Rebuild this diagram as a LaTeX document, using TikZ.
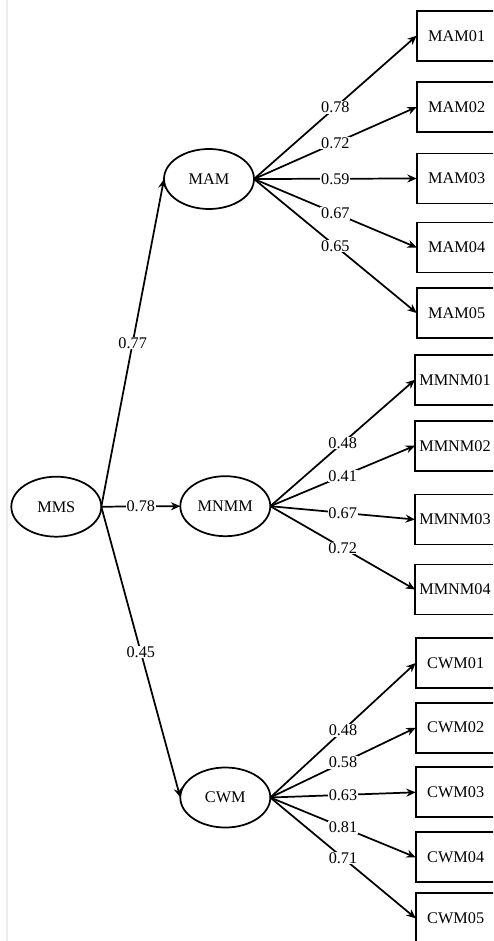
\documentclass[tikz,border=0pt]{standalone}
\usepackage{fontspec}
\setmainfont{Liberation Serif}
\usetikzlibrary{shapes.geometric,arrows.meta}

\tikzset{
  latent/.style={ellipse, draw, line width=1.3pt, minimum width=67.5pt, minimum height=45pt, inner sep=0pt, outer sep=0pt},
  indicator/.style={rectangle, draw, line width=1.3pt, minimum width=60pt, minimum height=37.5pt, inner sep=2pt, outer sep=0pt},
  path/.style={line width=1.3pt, -{Stealth[length=7pt,width=6pt]}},
  coef/.style={midway, fill=white, inner sep=0.6pt}
}

\begin{document}
\begin{tikzpicture}[x=0.75pt, y=-0.75pt, font=\fontsize{12.2pt}{14pt}\selectfont]
  \useasboundingbox (0,0) rectangle (493,941);
  \clip (0,0) rectangle (493,941);
  \draw[black!7, line width=0.8pt] (7,0) -- (7,941);

  % latent variables
  \node[latent] (MMS)  at (56.3,506.7) {MMS};
  \node[latent] (MAM)  at (209,179)    {MAM};
  \node[latent] (MNMM) at (225.3,506.2) {MNMM};
  \node[latent] (CWM)  at (225.3,797.5) {CWM};

  % observed indicators
  \node[indicator] (MAM01) at (456.7,35.7)  {MAM01};
  \node[indicator] (MAM02) at (456.7,107)   {MAM02};
  \node[indicator] (MAM03) at (456.7,178.5) {MAM03};
  \node[indicator] (MAM04) at (456.7,247.5) {MAM04};
  \node[indicator] (MAM05) at (456.7,313)   {MAM05};

  \node[indicator] (MMNM01) at (455,379.7) {MMNM01};
  \node[indicator] (MMNM02) at (455,445.7) {MMNM02};
  \node[indicator] (MMNM03) at (455,519.5) {MMNM03};
  \node[indicator] (MMNM04) at (455,589.5) {MMNM04};

  \node[indicator] (CWM01) at (455.7,663)   {CWM01};
  \node[indicator] (CWM02) at (455.7,727.7) {CWM02};
  \node[indicator] (CWM03) at (455.7,792.3) {CWM03};
  \node[indicator] (CWM04) at (455.7,857.3) {CWM04};
  \node[indicator] (CWM05) at (455.7,918.3) {CWM05};

  % second-order paths
  \draw[path] (MMS.east) -- node[coef] {0.77} (MAM.west);
  \draw[path] (MMS.east) -- node[coef] {0.78} (MNMM.west);
  \draw[path] (MMS.east) -- node[coef] {0.45} (CWM.west);

  % loadings
  \draw[path] (MAM.east) -- node[coef] {0.78} (MAM01.west);
  \draw[path] (MAM.east) -- node[coef] {0.72} (MAM02.west);
  \draw[path] (MAM.east) -- node[coef] {0.59} (MAM03.west);
  \draw[path] (MAM.east) -- node[coef] {0.67} (MAM04.west);
  \draw[path] (MAM.east) -- node[coef] {0.65} (MAM05.west);

  \draw[path] (MNMM.east) -- node[coef] {0.48} (MMNM01.west);
  \draw[path] (MNMM.east) -- node[coef] {0.41} (MMNM02.west);
  \draw[path] (MNMM.east) -- node[coef] {0.67} (MMNM03.west);
  \draw[path] (MNMM.east) -- node[coef] {0.72} (MMNM04.west);

  \draw[path] (CWM.east) -- node[coef] {0.48} (CWM01.west);
  \draw[path] (CWM.east) -- node[coef] {0.58} (CWM02.west);
  \draw[path] (CWM.east) -- node[coef] {0.63} (CWM03.west);
  \draw[path] (CWM.east) -- node[coef] {0.81} (CWM04.west);
  \draw[path] (CWM.east) -- node[coef] {0.71} (CWM05.west);
\end{tikzpicture}
\end{document}
